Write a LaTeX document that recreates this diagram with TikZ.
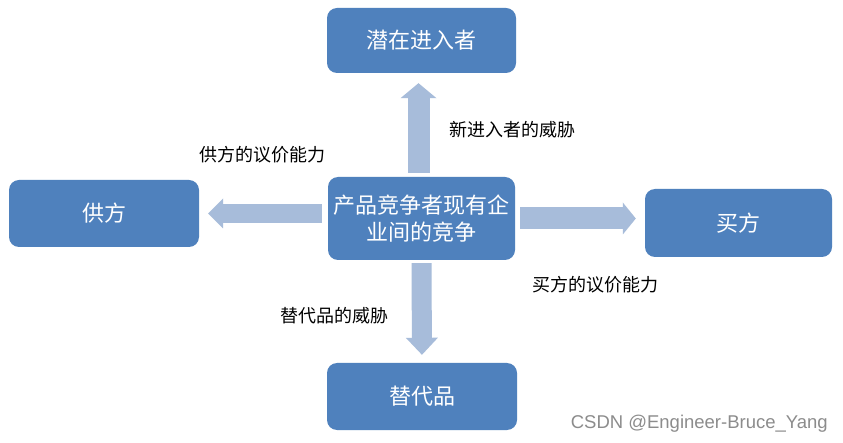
\documentclass[tikz,border=0pt]{standalone}
\usepackage{fontspec}
\setmainfont{Noto Sans CJK SC}
\newfontfamily\wmfont{Liberation Sans}
\usetikzlibrary{arrows.meta}
\definecolor{boxblue}{HTML}{4F81BD}
\definecolor{arrowblue}{HTML}{A7BCDA}
\definecolor{wmgray}{HTML}{8C8C8C}
\tikzset{
  box/.style={fill=boxblue, draw=none, rounded corners=10pt, text=white,
    font=\fontsize{22}{27}\selectfont, align=center, inner sep=0pt},
  blk/.style={draw=arrowblue, line cap=butt},
  lbl/.style={font=\fontsize{18}{20}\selectfont, text=black, inner sep=0pt},
}
\begin{document}
\begin{tikzpicture}[x=1pt,y=-1pt]
\useasboundingbox (0,0) rectangle (843,443);
\fill[white] (0,0) rectangle (843,443);
\node[box, minimum width=189pt, minimum height=65pt] (t) at (421.5,40.5) {潜在进入者};
\node[box, minimum width=190pt, minimum height=67pt] (s) at (104,213.5) {供方};
\node[box, minimum width=187pt, minimum height=83pt] (c) at (421.5,218.5) {产品竞争者现有企\\业间的竞争};
\node[box, minimum width=187pt, minimum height=68pt] (b) at (738.5,223) {买方};
\node[box, minimum width=190pt, minimum height=67pt] (d) at (422,396.5) {替代品};
% block arrows
\draw[blk, line width=22pt, shorten <=4pt, shorten >=10pt,
  -{Triangle[width=36pt,length=15pt,line width=0pt]}] ([xshift=-3pt]c.north) -- ([xshift=-3pt]t.south);
\draw[blk, line width=19pt, shorten <=6pt, shorten >=9pt,
  -{Triangle[width=30pt,length=15pt,line width=0pt]}] (c.west |- s.east) -- (s.east);
\draw[blk, line width=22pt, shorten <=5pt, shorten >=9pt,
  -{Triangle[width=32pt,length=13pt,line width=0pt]}] (c.east) -- (c.east -| b.west);
\draw[blk, line width=20pt, shorten <=3pt, shorten >=8pt,
  -{Triangle[width=32pt,length=17pt,line width=0pt]}] (c.south) -- (d.north);
% labels
\node[lbl] (l1) at (512,130) {新进入者的威胁};
\node[lbl] (l2) at (262,155) {供方的议价能力};
\node[lbl] (l3) at (595,285) {买方的议价能力};
\node[lbl] (l4) at (334,316) {替代品的威胁};
\node[anchor=east, inner sep=0pt, text=wmgray, font=\wmfont\fontsize{18.5}{20}\selectfont] (wm) at (828,424) {CSDN @Engineer-Bruce\_Yang};
\end{tikzpicture}
\end{document}
